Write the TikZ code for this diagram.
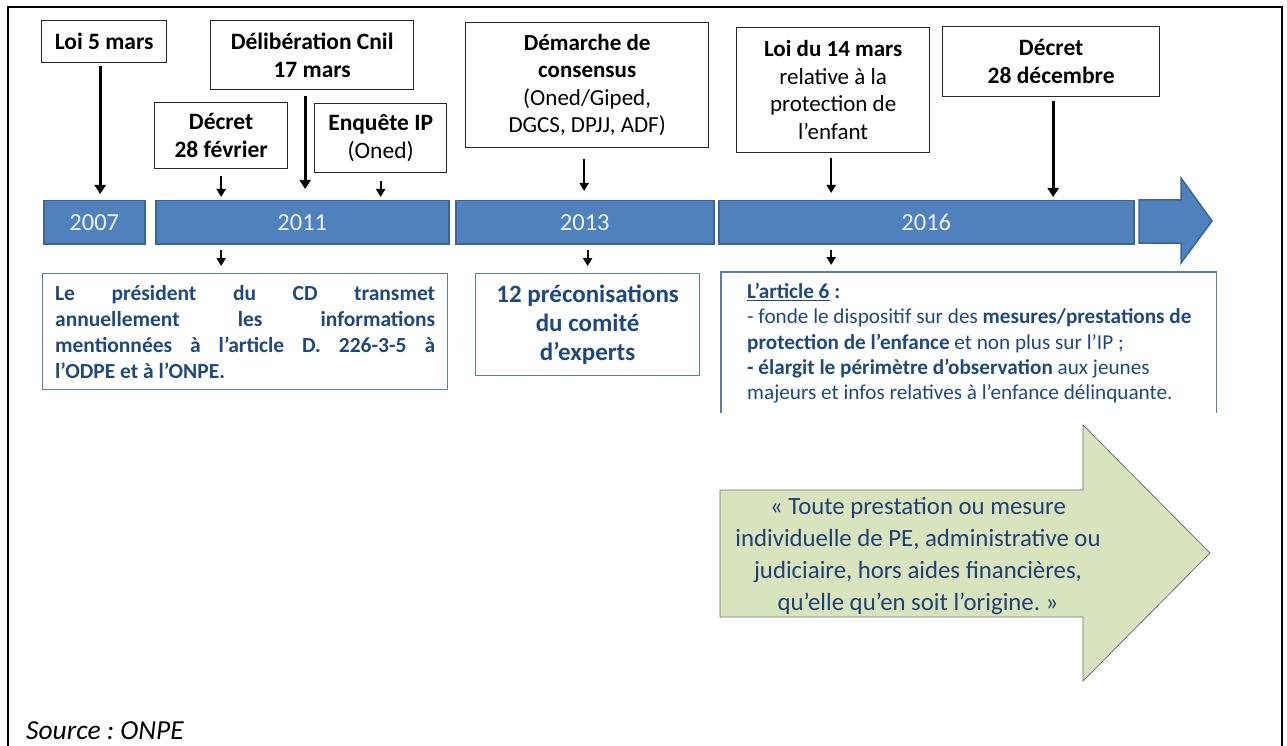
\documentclass[tikz,border=0pt]{standalone}
\usepackage{fontspec}
\setmainfont{Carlito}
\usetikzlibrary{arrows.meta}
\frenchspacing
\definecolor{barblue}{HTML}{4F81BD}
\definecolor{bardark}{HTML}{3B659A}
\definecolor{yeartext}{HTML}{EEF3FA}
\definecolor{textblue}{HTML}{1F497D}
\definecolor{boxblue}{HTML}{5A7DB0}
\definecolor{greenfill}{HTML}{D7E4BD}
\definecolor{greentext}{HTML}{233F72}
\begin{document}
\begin{tikzpicture}[x=1pt,y=-1pt,
  tbox/.style={draw=black!85, line width=1.3pt, fill=white, align=center, inner sep=0pt,
    anchor=north west, font=\fontsize{23.5}{28.5}\selectfont},
  bar/.style={fill=barblue, draw=bardark, line width=1.5pt, text=yeartext, inner sep=0pt,
    anchor=north west, minimum height=43, font=\fontsize{24.5}{28}\selectfont},
  bbox/.style={draw=boxblue, line width=1.3pt, fill=white, inner sep=0pt, anchor=north west,
    text=textblue, align=center},
  larr/.style={line width=2.8pt, -{Triangle[width=11pt,length=9pt]}},
  sarr/.style={line width=2pt, -{Triangle[width=9pt,length=8pt]}}
]
\useasboundingbox (0,0) rectangle (1287,746);
\fill[white] (0,0) rectangle (1287,746);
% outer frame
\draw[line width=2pt] (8,770) -- (8,7) -- (1282,7) -- (1282,770);

% top boxes
\node[tbox, minimum width=125, minimum height=42] (loi5) at (41,20) {\textbf{Loi 5 mars}};
\node[tbox, minimum width=203, minimum height=69] (delib) at (210,20) {\textbf{Délibération Cnil}\\\textbf{17 mars}};
\node[tbox, minimum width=133, minimum height=66] (decfev) at (154,102) {\textbf{Décret}\\\textbf{28 février}};
\node[tbox, minimum width=132, minimum height=69] (enq) at (314,103) {\textbf{Enquête IP}\\(Oned)};
\node[tbox, minimum width=243, minimum height=125, font=\fontsize{23}{27.5}\selectfont] (dem) at (465,22) {\textbf{Démarche de}\\\textbf{consensus}\\(Oned/Giped,\\DGCS, DPJJ, ADF)};
\node[tbox, minimum width=193, minimum height=125, font=\fontsize{23}{27.5}\selectfont] (loi14) at (736,27) {\textbf{Loi du 14 mars}\\relative à la\\protection de\\l’enfant};
\node[tbox, minimum width=217, minimum height=70] (decdec) at (942,26) {\textbf{Décret}\\\textbf{28 décembre}};

% bars
\node[bar, minimum width=101] (y2007) at (43,200) {2007};
\node[bar, minimum width=293] (y2011) at (155,200) {2011};
\node[bar, minimum width=258] (y2013) at (455,200) {2013};
\node[bar, minimum width=415] (y2016) at (718,200) {2016};
\draw[fill=barblue, draw=bardark, line width=1.5pt] (1139,200) -- (1181,200) -- (1181,178) -- (1212,221) -- (1181,263) -- (1181,243) -- (1139,243) -- cycle;

% arrows to bars
\draw[larr, shorten <=3pt, shorten >=6pt] ([xshift=-4pt]loi5.south) -- ([xshift=-4pt]loi5.south |- y2007.north);
\draw[larr, shorten <=6pt, shorten >=11pt] ([xshift=-7pt]delib.south) -- ([xshift=-7pt]delib.south |- y2011.north);
\draw[sarr, shorten <=7pt, shorten >=3pt] (decfev.south) -- (decfev.south |- y2011.north);
\draw[sarr, shorten <=8pt, shorten >=3pt] (enq.south) -- (enq.south |- y2011.north);
\draw[sarr, shorten <=11pt, shorten >=9pt] ([xshift=-3pt]dem.south) -- ([xshift=-3pt]dem.south |- y2013.north);
\draw[sarr, shorten <=5pt, shorten >=7pt] ([xshift=-2pt]loi14.south) -- ([xshift=-2pt]loi14.south |- y2016.north);
\draw[larr, shorten <=4pt, shorten >=3pt] ([xshift=2pt]decdec.south) -- ([xshift=2pt]decdec.south |- y2016.north);

% bottom boxes
\node[bbox, minimum width=405, minimum height=116, font=\bfseries\fontsize{21.5}{26}\selectfont] (box1) at (42,273)
 {\makebox[380pt][s]{Le président du CD transmet}\\
  \makebox[380pt][s]{annuellement les informations}\\
  \makebox[380pt][s]{mentionnées à l’article D. 226-3-5 à}\\
  \makebox[380pt][l]{l’ODPE et à l’ONPE.}};
\node[bbox, minimum width=224, minimum height=102, font=\bfseries\fontsize{25}{29}\selectfont] (box2) at (475,273)
 {12 préconisations\\du comité\\d’experts};
\node[anchor=north west, minimum width=495, minimum height=141, inner sep=0pt] (box3) at (721,272) {};
\draw[draw=boxblue, line width=1.3pt] (box3.south west) -- (box3.north west) -- (box3.north east) -- (box3.south east);
\node[anchor=north west, inner sep=0pt, align=left, text=textblue, font=\fontsize{21.2}{25.2}\selectfont] (art6) at (747,283)
 {\textbf{\underline{L’article 6}} \textbf{:}\\
  - fonde le dispositif sur des \textbf{mesures/prestations de}\\
  \textbf{protection de l’enfance} et non plus sur l’IP ;\\
  \textbf{- élargit le périmètre d’observation} aux jeunes\\
  majeurs et infos relatives à l’enfance délinquante.};

% arrows below bars
\draw[sarr, shorten <=5pt, shorten >=7pt] (y2011.south -| decfev.south) -- (box1.north -| decfev.south);
\draw[sarr, shorten <=5pt, shorten >=7pt] (y2013.south -| box2.north) -- (box2.north);
\draw[sarr, shorten <=5pt, shorten >=7pt] ([xshift=-2pt]y2016.south -| loi14.south) -- ([xshift=-2pt]box3.north -| loi14.south);

% green arrow
\draw[fill=greenfill, draw=black!55, line width=0.8pt] (720,490) -- (1083,490) -- (1083,425) -- (1210,553) -- (1083,681) -- (1083,617) -- (720,617) -- cycle;
\node[align=center, text=greentext, inner sep=0pt, font=\fontsize{24.8}{32}\selectfont] (quote) at (918,556)
 {« Toute prestation ou mesure\\individuelle de PE, administrative ou\\judiciaire, hors aides financières,\\qu’elle qu’en soit l’origine. »};

% source
\node[anchor=base west, inner sep=0pt, font=\itshape\fontsize{27.5}{30}\selectfont] (src) at (26,739) {Source : ONPE};
\end{tikzpicture}
\end{document}
